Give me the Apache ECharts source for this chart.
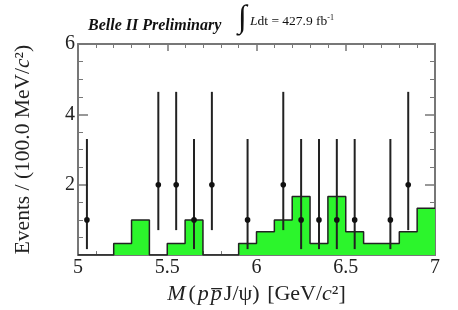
<!DOCTYPE html>
<html><head><meta charset="utf-8">
<script src="https://cdn.jsdelivr.net/npm/echarts@6/dist/echarts.min.js"></script>
<style>html,body{margin:0;padding:0;background:#fff}#c{width:458px;height:310px}</style>
</head><body><div id="c"></div><script>
// Histogram bins (lower edges, GeV/c^2) and heights (events / 100 MeV)
const binLow = [5.0,5.1,5.2,5.3,5.4,5.5,5.6,5.7,5.8,5.9,6.0,6.1,6.2,6.3,6.4,6.5,6.6,6.7,6.8,6.9];
const binHigh = 7.0;
const histValues = [0,0,0.333,1,0,0.333,1,0,0,0.333,0.667,1,1.667,0.333,1.667,0.667,0.333,0.333,0.667,1.333];
// Data points with asymmetric error bars
const dataX = [5.05,5.45,5.55,5.65,5.75,5.95,6.15,6.25,6.35,6.45,6.55,6.75,6.85];
const dataY = [1,2,2,1,2,1,2,1,1,1,1,1,2];
const errLow = [0.17,0.71,0.71,0.17,0.71,0.17,0.71,0.17,0.17,0.17,0.17,0.17,0.71];
const errHigh = [3.30,4.64,4.64,3.30,4.64,3.30,4.64,3.30,3.30,3.30,3.30,3.30,4.64];
const xTicks = [5,5.5,6,6.5,7];
const yTicks = [0,2,4,6];

const serif = '"Liberation Serif","DejaVu Serif",serif';
const histLine = binLow.map((x,i)=>[x,histValues[i]]);
histLine.push([binHigh, histValues[histValues.length-1]]);
const points = dataX.map((x,i)=>[x,dataY[i],errLow[i],errHigh[i]]);

const axisCol = '#777';
const chart = echarts.init(document.getElementById('c'), null, {renderer:'canvas'});
const xBase = {
  type:'value', min:xTicks[0], max:xTicks[xTicks.length-1], interval:0.5,
  axisLine:{show:true,onZero:false,lineStyle:{color:axisCol,width:2}},
  axisTick:{show:true,inside:true,length:7,lineStyle:{color:axisCol,width:1.5}},
  minorTick:{show:true,splitNumber:5,length:4,lineStyle:{color:axisCol,width:1}},
  splitLine:{show:false}
};
const yBase = {
  type:'value', min:yTicks[0], max:yTicks[yTicks.length-1], interval:2,
  axisLine:{show:true,onZero:false,lineStyle:{color:axisCol,width:2}},
  axisTick:{show:true,inside:true,length:10,lineStyle:{color:axisCol,width:1.5}},
  minorTick:{show:true,splitNumber:4,length:5,lineStyle:{color:axisCol,width:1}},
  splitLine:{show:false}
};
const nameFs = 22;
chart.setOption({
  animation:false,
  grid:{left:78,right:23,top:44,bottom:52,containLabel:false},
  xAxis:[
    Object.assign({}, xBase, {
      position:'bottom',
      axisLabel:{show:true,color:'#222',fontFamily:serif,fontSize:20,margin:3,
        formatter:v=>String(v)},
      name:'{m|M}{g|(}{p|p}{p|p\u0305}J/\u03c8{g|)} [GeV/{i|c}\u00b2]',
      nameLocation:'middle', nameGap:27,
      nameTextStyle:{color:'#222',fontFamily:serif,fontSize:nameFs,
        rich:{
          m:{fontStyle:'italic',fontFamily:serif,fontSize:nameFs,color:'#222',padding:[0,3,0,0]},
          g:{fontFamily:serif,fontSize:nameFs,color:'#222',padding:[0,2,0,0]},
          p:{fontStyle:'italic',fontFamily:serif,fontSize:nameFs,color:'#222',padding:[0,2,0,0]},
          i:{fontStyle:'italic',fontFamily:serif,fontSize:nameFs,color:'#222'}}}
    }),
    Object.assign({}, xBase, {position:'top',axisLabel:{show:false}})
  ],
  yAxis:[
    Object.assign({}, yBase, {
      position:'left',
      axisLabel:{show:true,color:'#222',fontFamily:serif,fontSize:20,margin:3,
        formatter:v=>v===0?'':String(v)},
      name:'Events / (100.0 MeV/{i|c}\u00b2)',
      nameLocation:'middle', nameGap:44, nameRotate:90,
      nameTextStyle:{color:'#222',fontFamily:serif,fontSize:21.5,
        rich:{i:{fontStyle:'italic',fontFamily:serif,fontSize:21.5,color:'#222'}}}
    }),
    Object.assign({}, yBase, {position:'right',axisLabel:{show:false}})
  ],
  series:[
    {
      type:'line', step:'end', data:histLine, symbol:'none',
      lineStyle:{color:'#222',width:1.5},
      areaStyle:{color:'#2cf52c',opacity:1},
      z:1
    },
    {
      type:'custom', data:points, z:5,
      renderItem:function(params, api){
        const x = api.value(0);
        const c = api.coord([x, api.value(1)]);
        const lo = api.coord([x, api.value(2)]);
        const hi = api.coord([x, api.value(3)]);
        return {type:'group',children:[
          {type:'line',shape:{x1:lo[0],y1:lo[1],x2:hi[0],y2:hi[1]},style:{stroke:'#222',lineWidth:2}},
          {type:'circle',shape:{cx:c[0],cy:c[1],r:2.8},style:{fill:'#111'}}
        ]};
      }
    }
  ],
  graphic:[
    {type:'text',left:88,top:18,style:{text:'Belle II Preliminary',fontFamily:serif,fontSize:16,fontWeight:'bold',fontStyle:'italic',fill:'#111'}},
    {type:'text',left:238,top:3,style:{text:'\u222b',fontFamily:serif,fontSize:32,fill:'#111'}},
    {type:'text',left:250,top:14,style:{
      text:'{i|L}dt = 427.9 fb{s|-1}',fontFamily:serif,fontSize:13.5,fill:'#111',
      rich:{i:{fontStyle:'italic',fontFamily:serif,fontSize:13.5,fill:'#111'},
            s:{fontFamily:serif,fontSize:8,verticalAlign:'top',padding:[0,0,6,0],fill:'#111'}}}}
  ]
});
</script></body></html>
